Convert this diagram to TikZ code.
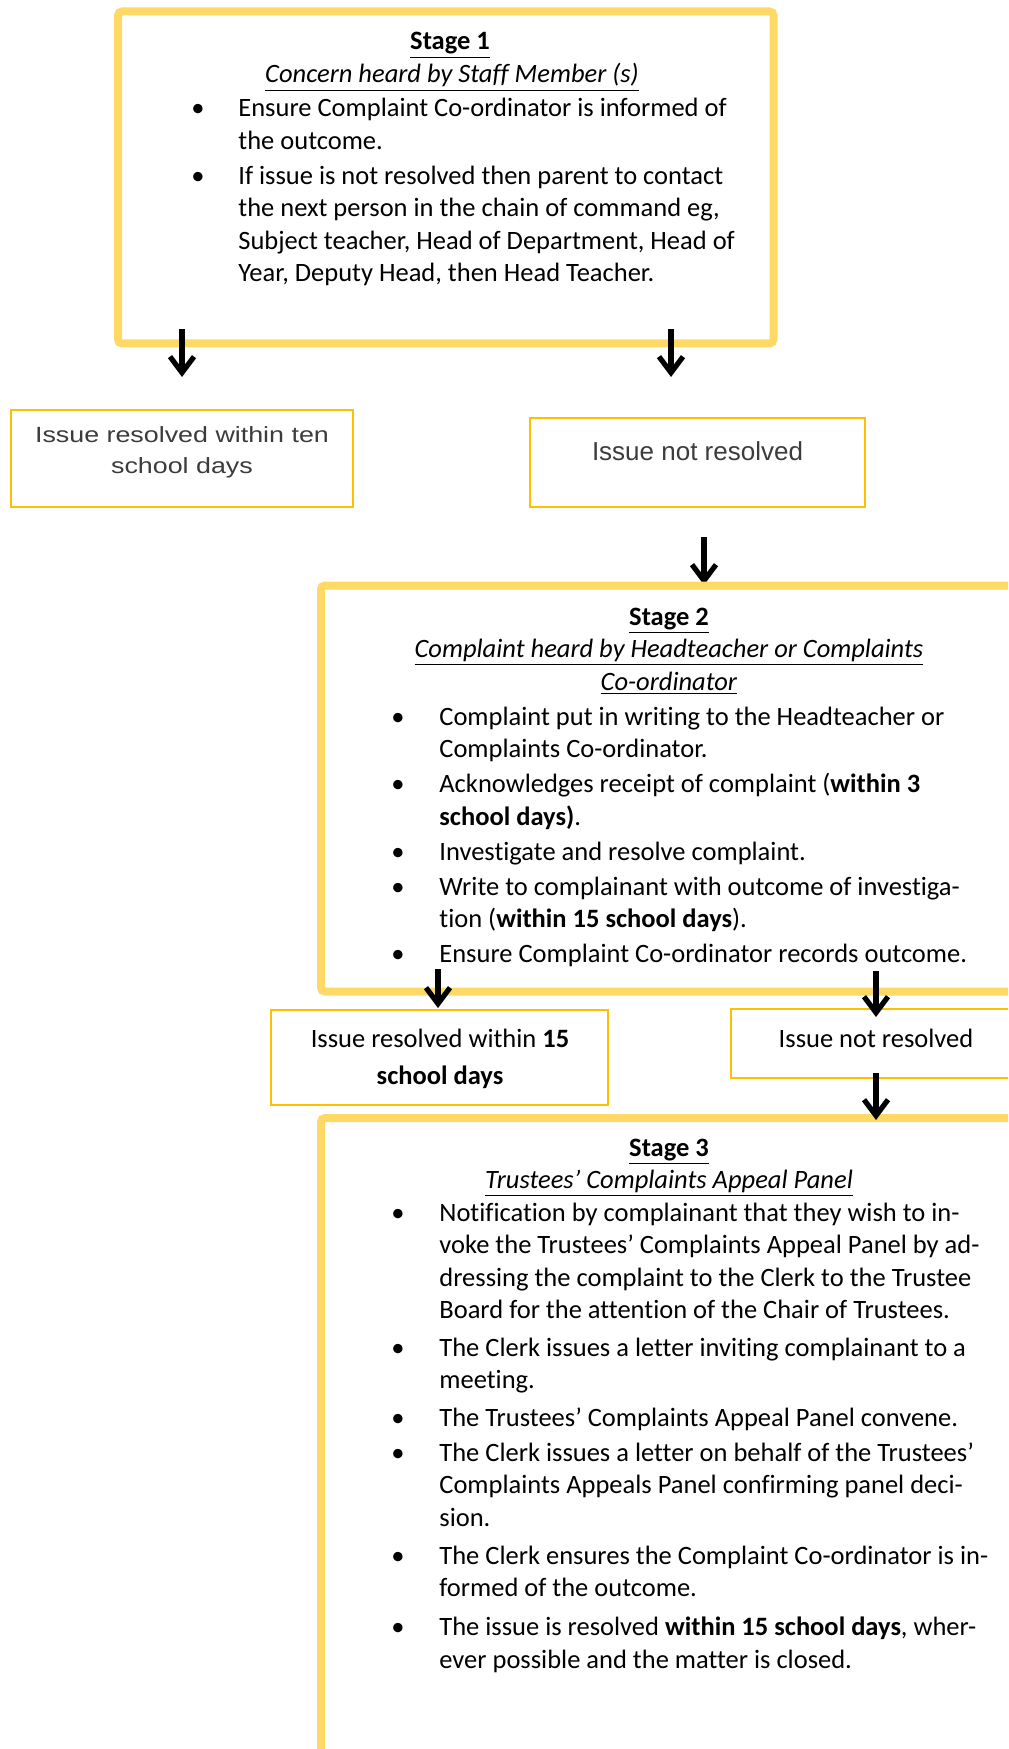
\documentclass[tikz,border=0pt]{standalone}
\usepackage{fontspec}
\setmainfont{Carlito}[Ligatures=NoCommon]
\newfontfamily\arialfont{Liberation Sans}
\newfontfamily\widefont[FakeStretch=1.22]{Liberation Sans}
\usetikzlibrary{arrows.meta,fit}

\definecolor{stageyellow}{HTML}{FFD966}
\definecolor{boxgold}{HTML}{FFC000}
\definecolor{greytext}{HTML}{3C3C3C}

\newcommand{\bodysize}{\fontsize{13.25}{16.25}\selectfont}
\newcommand{\gap}{\\[1.25pt]}
\newcommand{\biggap}{\\[2.6pt]}

\begin{document}
\begin{tikzpicture}[x=0.5pt,y=-0.5pt,
    stagebox/.style={draw=stageyellow, line width=4pt, rounded corners=2pt, inner sep=0pt},
    issuebox/.style={draw=boxgold, line width=1pt, inner sep=0pt},
    headtext/.style={anchor=base, inner sep=0pt, font=\bodysize},
    listtext/.style={anchor=base west, inner sep=0pt, font=\bodysize},
    greyissue/.style={anchor=base, inner sep=0pt, align=center, text=greytext},
    flowarrow/.style={line width=2.6pt, -{Straight Barb[length=8pt,width=12pt]}}]

    \clip (0,0) rectangle (1008,1749);
    \fill[white] (0,0) rectangle (1008,1749);

    % stage 1
    \node[stagebox, fit={(118,11.5) (773.5,343.5)}] (stageone) {};
    \node[headtext] (stageonehead) at (450,50) {\underline{\textbf{Stage 1}}};
    \node[headtext] (stageonesub) at (452,83) {\underline{\textit{Concern heard by Staff Member (s)}}};
    \node[listtext] (stageonelist) at (191,117) {\begin{tabular}[t]{@{}p{23.5pt}@{}l@{}}
        \textbullet & Ensure Complaint Co-ordinator is informed of\\
        & the outcome.\gap
        \textbullet & If issue is not resolved then parent to contact\\
        & the next person in the chain of command eg,\\
        & Subject teacher, Head of Department, Head of\\
        & Year, Deputy Head, then Head Teacher.
    \end{tabular}};

    \node[issuebox, fit={(11,410) (353,507)}] (tendays) {};
    \node[greyissue, font=\widefont\fontsize{11}{15.5}\selectfont] (tendaystext) at (182,473) {Issue resolved within ten\\school days};

    \node[issuebox, fit={(530,418) (865,507)}] (notone) {};
    \node[greyissue, font=\arialfont\fontsize{13}{15.5}\selectfont] (notonetext) at (697.5,460) {Issue not resolved};

    \coordinate (aonestart) at (182,329);
    \coordinate (aoneend) at (182,377);
    \coordinate (atwostart) at (671,329);
    \coordinate (atwoend) at (671,377);
    \draw[flowarrow] (aonestart) -- (aoneend);
    \draw[flowarrow] (atwostart) -- (atwoend);

    \coordinate (athreestart) at (704,537);
    \coordinate (athreeend) at (704,585);
    \draw[flowarrow] (athreestart) -- (athreeend);

    % stage 2
    \node[stagebox, fit={(321,585.5) (1017,991.5)}] (stagetwo) {};
    \node[headtext] (stagetwohead) at (669,625) {\underline{\textbf{Stage 2}}};
    \node[headtext] (stagetwosub) at (669,657) {\underline{\textit{Complaint heard by Headteacher or Complaints}}};
    \node[headtext] (stagetwosubb) at (669,690) {\underline{\textit{Co-ordinator}}};
    \node[listtext] (stagetwolist) at (391,725) {\begin{tabular}[t]{@{}p{24pt}@{}l@{}}
        \textbullet & Complaint put in writing to the Headteacher or\\
        & Complaints Co-ordinator.\gap
        \textbullet & Acknowledges receipt of complaint (\textbf{within 3}\\
        & \textbf{school days)}.\gap
        \textbullet & Investigate and resolve complaint.\gap
        \textbullet & Write to complainant with outcome of investiga-\\
        & tion (\textbf{within 15 school days}).\gap
        \textbullet & Ensure Complaint Co-ordinator records outcome.
    \end{tabular}};

    \node[issuebox, line width=1.3pt, fit={(271,1010) (608,1105)}] (fifteendays) {};
    \node[headtext, align=center, font=\fontsize{13.25}{18.5}\selectfont] (fifteendaystext) at (440,1084) {Issue resolved within \textbf{15}\\\textbf{school days}};

    \node[issuebox, line width=1.3pt, fit={(731,1009) (1021,1078)}] (nottwo) {};
    \node[headtext] (nottwotext) at (876,1047) {Issue not resolved};

    \coordinate (afourstart) at (438,969);
    \coordinate (afourend) at (438,1008);
    \coordinate (afivestart) at (876,971);
    \coordinate (afiveend) at (876,1017);
    \coordinate (asixstart) at (876,1073);
    \coordinate (asixend) at (876,1120);
    \draw[flowarrow] (afourstart) -- (afourend);
    \draw[flowarrow] (afivestart) -- (afiveend);

    % stage 3
    \node[stagebox, fit={(321,1118) (1017,1800)}] (stagethree) {};
    \draw[flowarrow] (asixstart) -- (asixend);
    \node[headtext] (stagethreehead) at (669,1156) {\underline{\textbf{Stage 3}}};
    \node[headtext] (stagethreesub) at (669,1188) {\underline{\textit{Trustees’ Complaints Appeal Panel}}};
    \node[listtext] (stagethreelist) at (391,1221) {\begin{tabular}[t]{@{}p{24pt}@{}l@{}}
        \textbullet & Notification by complainant that they wish to in-\\
        & voke the Trustees’ Complaints Appeal Panel by ad-\\
        & dressing the complaint to the Clerk to the Trustee\\
        & Board for the attention of the Chair of Trustees.\biggap
        \textbullet & The Clerk issues a letter inviting complainant to a\\
        & meeting.\biggap
        \textbullet & The Trustees’ Complaints Appeal Panel convene.\gap
        \textbullet & The Clerk issues a letter on behalf of the Trustees’\\
        & Complaints Appeals Panel confirming panel deci-\\
        & sion.\biggap
        \textbullet & The Clerk ensures the Complaint Co-ordinator is in-\\
        & formed of the outcome.\\[3.2pt]
        \textbullet & The issue is resolved \textbf{within 15 school days}, wher-\\
        & ever possible and the matter is closed.
    \end{tabular}};

\end{tikzpicture}
\end{document}
